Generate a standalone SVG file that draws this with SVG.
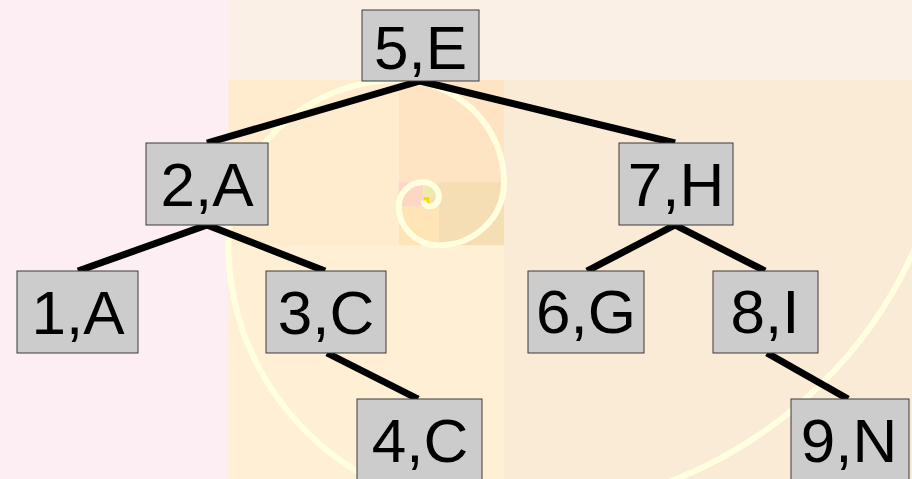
<svg xmlns="http://www.w3.org/2000/svg" width="912" height="479" viewBox="0 0 912 479">
  <style>
    .node rect { fill: #cccccc; stroke: #3a3a3a; stroke-width: 1; }
    .node text { font-family: "Liberation Sans", Arial, sans-serif; font-size: 62px; fill: #000; text-anchor: middle; }
    .edge { stroke: #000; stroke-width: 7; stroke-linecap: butt; fill: none; }
    .spiral { fill: none; stroke: #ffffe0; stroke-width: 6; stroke-linecap: butt; }
  </style>

  <!-- backdrop -->
  <g id="background">
    <rect x="0" y="0" width="912" height="479" fill="#fdeef4"/>
    <rect x="228.4" y="0" width="684" height="80" fill="#faf0e6"/>
    <!-- golden-rectangle squares, slightly squashed vertically -->
    <g transform="matrix(1,0,0,0.97,0,2.4)">
      <rect x="504" y="80" width="446" height="446" fill="#faebd7"/>
      <rect x="228.4" y="250.4" width="275.6" height="275.6" fill="#ffefd5"/>
      <rect x="228.4" y="80" width="170.3" height="170.4" fill="#ffebcd"/>
      <rect x="398.7" y="80" width="105.3" height="105.3" fill="#ffe4c4"/>
      <rect x="438.9" y="185.3" width="65.1" height="65.1" fill="#f5deb3"/>
      <rect x="398.7" y="210.2" width="40.2" height="40.2" fill="#ffe4b5"/>
      <rect x="398.7" y="185.3" width="24.8" height="24.9" fill="#fdd6c4"/>
      <rect x="423.5" y="185.3" width="15.4" height="15.4" fill="#efe9b0"/>
      <rect x="429.4" y="200.7" width="9.5" height="9.5" fill="#f5deb3"/>
      <rect x="423.5" y="200.7" width="5.9" height="9.5" fill="#ffd700"/>
      <!-- golden spiral, outer arc to inner -->
      <path class="spiral" d="M950,80
        A446,446 0 0 1 504,526
        A275.6,275.6 0 0 1 228.4,250.4
        A170.3,170.3 0 0 1 398.7,80
        A105.3,105.3 0 0 1 504,185.3
        A65.1,65.1 0 0 1 438.9,250.4
        A40.2,40.2 0 0 1 398.7,210.2
        A24.8,24.8 0 0 1 423.5,185.3
        A15.4,15.4 0 0 1 438.9,200.7
        A9.5,9.5 0 0 1 429.4,210.2
        A5.9,5.9 0 0 1 423.5,204.3"/>
    </g>
  </g>

  <!-- tree edges: parent bottom-centre to child top-centre -->
  <g id="connectors">
    <line class="edge" x1="420" y1="81" x2="207" y2="143"/>
    <line class="edge" x1="420" y1="81" x2="675" y2="143"/>
    <line class="edge" x1="207" y1="225" x2="78" y2="271"/>
    <line class="edge" x1="207" y1="225" x2="325" y2="271"/>
    <line class="edge" x1="327" y1="353" x2="418" y2="399"/>
    <line class="edge" x1="675" y1="225" x2="587" y2="271"/>
    <line class="edge" x1="675" y1="225" x2="765" y2="271"/>
    <line class="edge" x1="767" y1="353" x2="848" y2="399"/>
  </g>

  <g id="node-5E" class="node">
    <rect x="362" y="10" width="117" height="71"/>
    <text x="420.5" y="69">5,E</text>
  </g>
  <g id="node-2A" class="node">
    <rect x="146" y="143" width="122" height="82"/>
    <text x="207" y="206">2,A</text>
  </g>
  <g id="node-7H" class="node">
    <rect x="619" y="143" width="114" height="82"/>
    <text x="676" y="206">7,H</text>
  </g>
  <g id="node-1A" class="node">
    <rect x="17" y="271" width="121" height="82"/>
    <text x="78" y="334">1,A</text>
  </g>
  <g id="node-3C" class="node">
    <rect x="266" y="271" width="120" height="82"/>
    <text x="326" y="334">3,C</text>
  </g>
  <g id="node-6G" class="node">
    <rect x="528" y="271" width="116" height="82"/>
    <text x="586" y="333">6,G</text>
  </g>
  <g id="node-8I" class="node">
    <rect x="713" y="271" width="105" height="82"/>
    <text x="765" y="333">8,I</text>
  </g>
  <g id="node-4C" class="node">
    <rect x="357" y="399" width="125" height="90"/>
    <text x="420" y="462">4,C</text>
  </g>
  <g id="node-9N" class="node">
    <rect x="791" y="399" width="118" height="90"/>
    <text x="849" y="462">9,N</text>
  </g>
</svg>
